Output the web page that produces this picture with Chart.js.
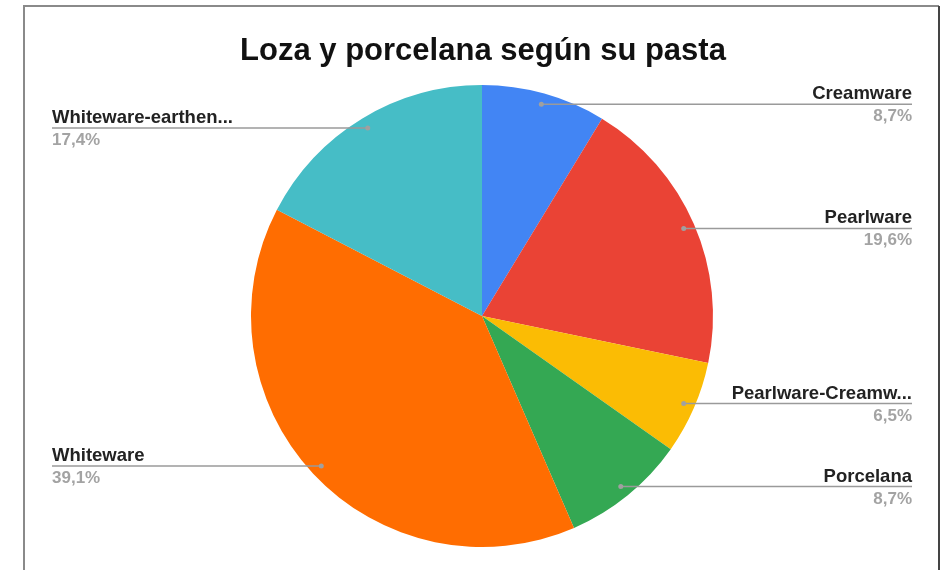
<!DOCTYPE html>
<html>
<head>
<meta charset="utf-8">
<script src="https://cdn.jsdelivr.net/npm/chart.js@4"></script>
<style>
html,body{margin:0;padding:0;background:#fff;}
#wrap{width:944px;height:570px;position:relative;}
</style>
</head>
<body>
<div id="wrap"><canvas id="c" width="944" height="570"></canvas></div>
<script>
const chartTitle = 'Loza y porcelana según su pasta';
const categories = ['Creamware', 'Pearlware', 'Pearlware-Creamw...', 'Porcelana', 'Whiteware', 'Whiteware-earthen...'];
const counts = [4, 9, 3, 4, 18, 8];
const sliceColors = ['#4285F4', '#EA4335', '#FBBC04', '#34A853', '#FF6D01', '#46BDC6'];

const total = counts.reduce((a, b) => a + b, 0);
function pct(v) { return (v / total * 100).toFixed(1).replace('.', ',') + '%'; }

const decor = {
  id: 'decor',
  afterDraw(chart) {
    const ctx = chart.ctx;
    ctx.save();
    // frame
    ctx.strokeStyle = '#8a8a8a';
    ctx.lineWidth = 2;
    ctx.beginPath();
    ctx.moveTo(24, 570); ctx.lineTo(24, 6); ctx.lineTo(939, 6);
    ctx.stroke();
    ctx.strokeStyle = '#444';
    ctx.beginPath();
    ctx.moveTo(939, 6); ctx.lineTo(939, 570);
    ctx.stroke();
    // title
    ctx.fillStyle = '#111';
    ctx.font = 'bold 31px "Liberation Sans", Arial, sans-serif';
    ctx.textAlign = 'center';
    ctx.textBaseline = 'alphabetic';
    ctx.fillText(chartTitle, 483, 60);
    // leader labels
    const meta = chart.getDatasetMeta(0);
    meta.data.forEach((arc, i) => {
      const mid = (arc.startAngle + arc.endAngle) / 2;
      const r = arc.outerRadius * 0.952;
      const sx = arc.x + Math.cos(mid) * r;
      const sy = arc.y + Math.sin(mid) * r;
      const right = Math.cos(mid) >= 0;
      const tx = right ? 912 : 52;
      ctx.strokeStyle = '#9a9a9a';
      ctx.lineWidth = 1.5;
      ctx.beginPath();
      ctx.moveTo(sx, sy); ctx.lineTo(tx, sy);
      ctx.stroke();
      ctx.fillStyle = '#a0a0a0';
      ctx.beginPath();
      ctx.arc(sx, sy, 2.5, 0, Math.PI * 2);
      ctx.fill();
      ctx.textAlign = right ? 'right' : 'left';
      ctx.font = 'bold 18.5px "Liberation Sans", Arial, sans-serif';
      ctx.fillStyle = '#222';
      ctx.fillText(categories[i], tx, sy - 5);
      ctx.font = 'bold 17px "Liberation Sans", Arial, sans-serif';
      ctx.fillStyle = '#a3a3a3';
      ctx.fillText(pct(counts[i]), tx, sy + 17);
    });
    ctx.restore();
  }
};

new Chart(document.getElementById('c'), {
  type: 'pie',
  data: {
    labels: categories,
    datasets: [{
      data: counts,
      backgroundColor: sliceColors,
      borderWidth: 0
    }]
  },
  options: {
    responsive: false,
    devicePixelRatio: 1,
    animation: false,
    layout: { padding: { top: 85, bottom: 23, left: 251, right: 231 } },
    plugins: {
      legend: { display: false },
      title: { display: false },
      tooltip: { enabled: false }
    }
  },
  plugins: [decor]
});
</script>
</body>
</html>
